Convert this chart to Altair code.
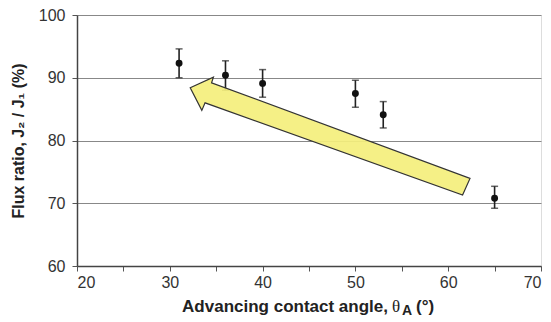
import altair as alt
import pandas as pd

# Data
angle = [31, 36, 40, 50, 53, 65]
flux = [92.3, 90.4, 89.1, 87.5, 84.1, 70.8]
err_hi = [94.6, 92.7, 91.3, 89.6, 86.2, 72.7]
err_lo = [90.0, 88.0, 86.9, 85.3, 82.0, 69.2]

# Arrow annotation outline (data units)
arrow_x = [32.2, 34.7, 34.5, 62.35, 61.55, 33.8, 33.45, 32.2]
arrow_y = [88.4, 90.1, 89.2, 73.95, 71.3, 86.0, 84.8, 88.4]

df = pd.DataFrame({"angle": angle, "flux": flux, "hi": err_hi, "lo": err_lo})
arrow = pd.DataFrame({"x": arrow_x, "y": arrow_y, "o": list(range(len(arrow_x)))})

FONT = "Liberation Sans"
xs = alt.Scale(domain=[20, 70], nice=False)
ys = alt.Scale(domain=[60, 100], nice=False)

xaxis = alt.Axis(values=[20, 25, 30, 35, 40, 45, 50, 55, 60, 65, 70],
                 labelExpr="datum.value % 10 == 0 ? datum.label : ''",
                 grid=False, title=None, tickSize=5, tickColor="#555",
                 domainColor="#444", domainWidth=1.5, labelFont=FONT,
                 labelFontSize=16, labelColor="#333", labelPadding=3)
yaxis = alt.Axis(values=[60, 65, 70, 75, 80, 85, 90, 95, 100],
                 labelExpr="datum.value % 10 == 0 ? datum.label : ''",
                 grid=True, gridColor="#888", gridWidth=1,
                 gridOpacity={"condition": {"test": "datum.value % 10 === 0", "value": 1}, "value": 0},
                 title="Flux ratio, J₂ / J₁ (%)", titleFont=FONT, titleFontSize=16,
                 titleFontWeight="bold", titleColor="#222", titlePadding=12,
                 tickSize=5, tickColor="#555", domainColor="#444", domainWidth=1.5,
                 labelFont=FONT, labelFontSize=16, labelColor="#333", labelPadding=7)

base = alt.Chart(df)

bars = base.mark_rule(color="#222", strokeWidth=1.6).encode(
    x=alt.X("angle:Q", scale=xs, axis=xaxis),
    y=alt.Y("lo:Q", scale=ys, axis=yaxis),
    y2="hi:Q",
)
cap_hi = base.mark_tick(color="#222", orient="horizontal", size=7, thickness=1.5).encode(
    x=alt.X("angle:Q", scale=xs), y=alt.Y("hi:Q", scale=ys))
cap_lo = base.mark_tick(color="#222", orient="horizontal", size=7, thickness=1.5).encode(
    x=alt.X("angle:Q", scale=xs), y=alt.Y("lo:Q", scale=ys))
pts = base.mark_circle(color="#111", size=48, opacity=1).encode(
    x=alt.X("angle:Q", scale=xs), y=alt.Y("flux:Q", scale=ys))

arr = alt.Chart(arrow).mark_line(fill="#f4ef7c", stroke="#333", strokeWidth=1.2,
                                 fillOpacity=0.92, interpolate="linear-closed").encode(
    x=alt.X("x:Q", scale=xs), y=alt.Y("y:Q", scale=ys), order="o:Q")

def label(txt, x, y, size, font=FONT, weight="bold", align="left"):
    return alt.Chart(pd.DataFrame({"t": [txt]})).mark_text(
        font=font, fontSize=size, fontWeight=weight, color="#222", align=align,
        baseline="alphabetic").encode(text="t:N", x=alt.value(x), y=alt.value(y))

title_main = label("Advancing contact angle,", 311, 296.5, 17, align="right")
title_theta = label("θ", 315, 296.5, 17, font="Liberation Serif", weight="normal")
title_sub = label("A", 325, 300, 14)
title_end = label("(°)", 339, 296.5, 17)

chart = alt.layer(bars, cap_hi, cap_lo, pts, arr,
                  title_main, title_theta, title_sub, title_end).properties(
    width=464, height=251,
    autosize=alt.AutoSizeParams(type="none"),
    padding={"left": 77, "top": 15, "right": 10, "bottom": 56},
).configure_view(stroke="#444", strokeWidth=1.5).configure(background="white")

chart.save("out.html", embed_options={"renderer": "svg", "actions": False})
